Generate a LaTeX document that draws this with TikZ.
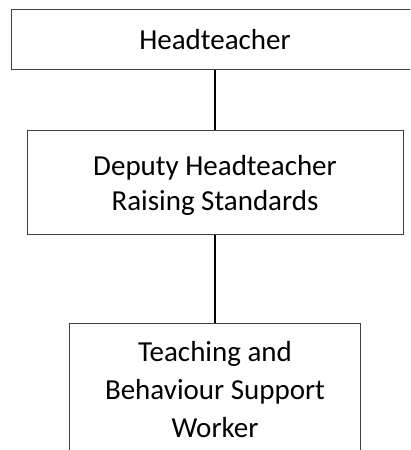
\documentclass[tikz,border=0pt]{standalone}
\usepackage{fontspec}
\setmainfont{Carlito}
\usetikzlibrary{positioning}
\tikzset{
  post/.style   = {shape=rectangle, draw=black!75, line width=0.9pt,
                   align=center, font=\fontsize{29}{35}\selectfont},
  head/.style   = {post, minimum width=408pt, minimum height=60pt},
  deputy/.style = {post, minimum width=376pt, minimum height=104pt,
                   text depth=0pt},
  worker/.style = {post, minimum width=291pt, inner ysep=18pt,
                   font=\fontsize{29}{38}\selectfont},
  link/.style   = {draw, line width=1.2pt}
}

\begin{document}
\begin{tikzpicture}[x=1pt, y=-1pt]
  \useasboundingbox (0,0) rectangle (410,450);
  \clip (0,0) rectangle (410,450);
  % the three posts, top to bottom
  \node [head] (head) at (215,39.5) {Headteacher};
  \node [deputy, below=60.5pt of head] (deputy)
    {Deputy Headteacher\\Raising Standards};
  \node [worker, below=88pt of deputy] (worker)
    {Teaching and\\Behaviour Support\\Worker};
  % reporting lines
  \draw [link] (head) -- (deputy);
  \draw [link] (deputy) -- (worker);
\end{tikzpicture}
\end{document}
